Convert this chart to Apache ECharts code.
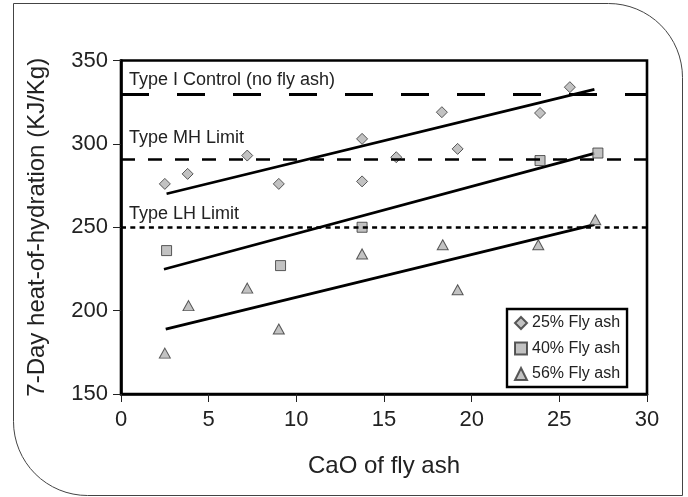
<!DOCTYPE html>
<html>
<head>
<meta charset="utf-8">
<script src="https://cdn.jsdelivr.net/npm/echarts@6/dist/echarts.min.js"></script>
<style>
  html, body { margin: 0; padding: 0; background: #fff; }
  #chart { width: 688px; height: 497px; }
</style>
</head>
<body>
<div id="chart"></div>
<script>
// CaO content of fly ash (%) vs. 7-day heat of hydration (kJ/kg)
const ash25X = [2.5, 3.8, 7.2, 9.0, 13.75, 13.75, 15.7, 18.3, 19.2, 23.9, 25.6];
const ash25Y = [276, 282, 293, 276, 303, 277.5, 292, 319, 297, 318.5, 334];

const ash40X = [2.6, 9.1, 13.75, 23.9, 27.2];
const ash40Y = [236, 227, 250, 290, 294.5];

const ash56X = [2.5, 3.85, 7.2, 9.0, 13.75, 18.35, 19.2, 23.8, 27.05];
const ash56Y = [174.5, 203, 213.5, 189, 234, 239.5, 212.5, 239.5, 254.5];

// Linear trend lines: [start, end] points
const trend25 = [[2.6, 270.1], [27.0, 332.7]];
const trend40 = [[2.45, 224.8], [27.0, 294.3]];
const trend56 = [[2.55, 188.9], [27.0, 251.6]];

// Specification limits
const limitNames = ['Type I Control (no fly ash)', 'Type MH Limit', 'Type LH Limit'];
const limitValues = [330, 290.5, 250];

const seriesNames = ['25% Fly ash', '40% Fly ash', '56% Fly ash'];

const xTicks = { min: 0, max: 30, interval: 5 };
const yTicks = { min: 150, max: 350, interval: 50 };

const FONT = '"Liberation Sans", Arial, sans-serif';
const pairs = (xs, ys) => xs.map((x, i) => [x, ys[i]]);

const markerStyle = { color: '#b3b3b3', borderColor: '#333', borderWidth: 1 };
const trendStyle = { color: '#000', width: 2.7 };

const limitStyles = [
  { type: [28, 28], width: 2.8, dist: [8, 5] },
  { type: [14, 13], width: 2.6, dist: [8, 13] },
  { type: [5, 4.3], width: 2.6, dist: [8, 4] }
];

const chart = echarts.init(document.getElementById('chart'), null, { renderer: 'canvas' });

chart.setOption({
  animation: false,
  backgroundColor: '#fff',
  graphic: [{
    type: 'rect',
    shape: { x: 13.5, y: 3.5, width: 669, height: 492, r: [0, 74, 0, 74] },
    style: { fill: 'none', stroke: '#444', lineWidth: 1 },
    z: -10
  }],
  grid: {
    left: 121, right: 41, top: 60.5, bottom: 103,
    show: true, borderColor: '#000', borderWidth: 2.6, backgroundColor: 'transparent'
  },
  legend: {
    data: seriesNames,
    orient: 'vertical',
    left: 507, top: 309,
    padding: [6, 7, 5, 7],
    itemGap: 9.5,
    itemWidth: 12, itemHeight: 12,
    borderColor: '#000', borderWidth: 2.4,
    backgroundColor: '#fff',
    textStyle: { fontFamily: FONT, fontSize: 16, color: '#222', padding: [0, 0, 0, 0] }
  },
  xAxis: {
    type: 'value',
    min: xTicks.min, max: xTicks.max, interval: xTicks.interval,
    name: 'CaO of fly ash',
    nameLocation: 'middle', nameGap: 60,
    nameTextStyle: { fontFamily: FONT, fontSize: 24, color: '#222' },
    axisLine: { show: true, lineStyle: { color: '#000', width: 2.6 } },
    axisTick: { show: true, length: 8, lineStyle: { color: '#222', width: 1 } },
    axisLabel: { fontFamily: FONT, fontSize: 22, color: '#222', margin: 15 },
    splitLine: { show: false }
  },
  yAxis: {
    type: 'value',
    min: yTicks.min, max: yTicks.max, interval: yTicks.interval,
    name: '7-Day heat-of-hydration (KJ/Kg)',
    nameLocation: 'middle', nameGap: 72,
    nameTextStyle: { fontFamily: FONT, fontSize: 24, color: '#222' },
    axisLine: { show: true, lineStyle: { color: '#000', width: 2.6 } },
    axisTick: { show: true, length: 8, lineStyle: { color: '#222', width: 1 } },
    axisLabel: { fontFamily: FONT, fontSize: 22, color: '#222', margin: 13 },
    splitLine: { show: false }
  },
  series: [
    {
      name: 'limits',
      type: 'line',
      data: [],
      silent: true,
      markLine: {
        silent: true,
        symbol: ['none', 'none'],
        animation: false,
        data: limitValues.map((v, i) => ({
          yAxis: v,
          lineStyle: { color: '#000', type: limitStyles[i].type, width: limitStyles[i].width },
          label: {
            show: true,
            position: 'insideStartTop',
            distance: limitStyles[i].dist,
            formatter: limitNames[i],
            fontFamily: FONT, fontSize: 18, color: '#222'
          }
        }))
      }
    },
    { name: 'trend25', type: 'line', data: trend25, symbol: 'none', lineStyle: trendStyle, silent: true, z: 3 },
    { name: 'trend40', type: 'line', data: trend40, symbol: 'none', lineStyle: trendStyle, silent: true, z: 3 },
    { name: 'trend56', type: 'line', data: trend56, symbol: 'none', lineStyle: trendStyle, silent: true, z: 3 },
    {
      name: seriesNames[0], type: 'scatter', data: pairs(ash25X, ash25Y),
      symbol: 'diamond', symbolSize: 11, itemStyle: markerStyle, z: 4
    },
    {
      name: seriesNames[1], type: 'scatter', data: pairs(ash40X, ash40Y),
      symbol: 'rect', symbolSize: 10, itemStyle: markerStyle, z: 4
    },
    {
      name: seriesNames[2], type: 'scatter', data: pairs(ash56X, ash56Y),
      symbol: 'triangle', symbolSize: [11, 10], itemStyle: markerStyle, z: 4
    }
  ]
});
</script>
</body>
</html>
